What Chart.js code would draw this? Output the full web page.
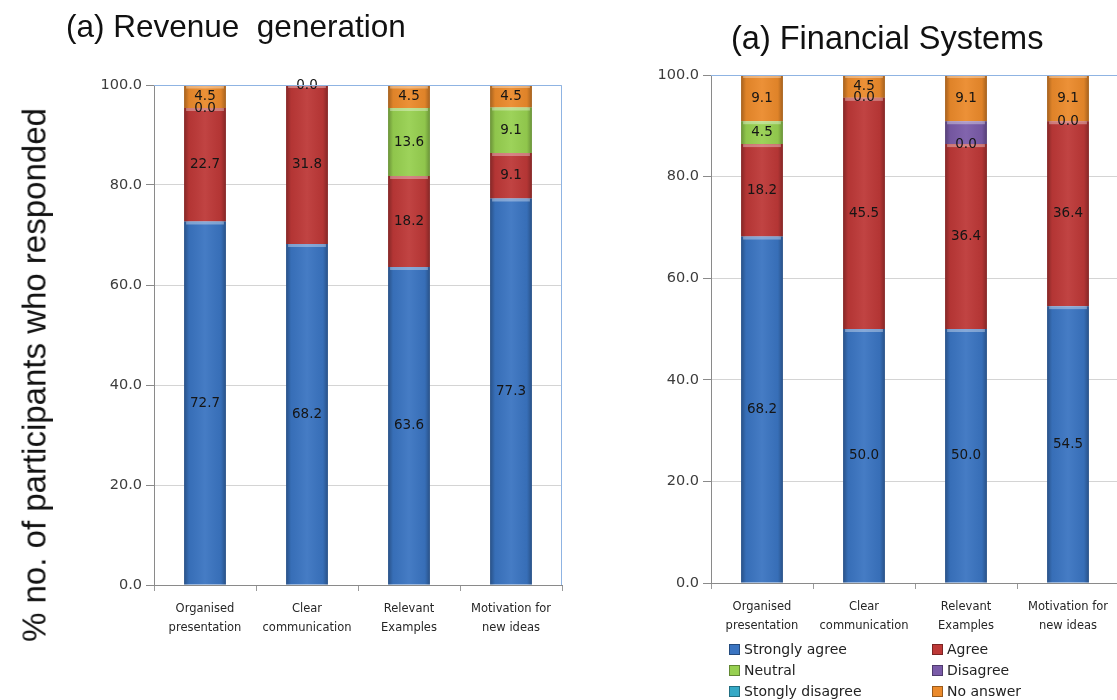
<!DOCTYPE html>
<html>
<head>
<meta charset="utf-8">
<script src="https://cdn.jsdelivr.net/npm/chart.js@4.4.1/dist/chart.umd.min.js"></script>
<style>
  html, body { margin: 0; padding: 0; background: #ffffff; overflow: hidden; }
  #wrap { position: relative; width: 1117px; height: 700px; overflow: hidden; background: #fff; }
  canvas { position: absolute; top: 0; }
  #revCanvas { left: 0; }
  #finCanvas { left: 590px; }
  .heading { position: absolute; font-family: "Liberation Sans", Arial, sans-serif; color: #111; white-space: pre; line-height: 1; }
  #revTitle { left: 66px; top: 11px; font-size: 31.5px; }
  #finTitle { left: 731px; top: 22px; font-size: 32.5px; }
  #yTitle { position: absolute; left: 34px; top: 375px; font-family: "Liberation Sans", Arial, sans-serif;
            font-size: 33px; color: #111; white-space: nowrap; line-height: 1;
            transform: translate(-50%, -50%) rotate(-90deg); }
  #legend { position: absolute; left: 729px; top: 640px; display: grid; grid-template-columns: 203px 180px;
            row-gap: 3px; font-family: "DejaVu Sans", Verdana, sans-serif; font-size: 14px; color: #222; }
  #legend .item { display: flex; align-items: center; height: 18px; }
  #legend .swatch { width: 9px; height: 9px; margin-right: 4px; border: 1px solid rgba(0,0,0,0.35); }
</style>
</head>
<body>
<div id="wrap">
  <canvas id="revCanvas" width="580" height="700"></canvas>
  <canvas id="finCanvas" width="540" height="700"></canvas>
  <div id="revTitle" class="heading">(a) Revenue  generation</div>
  <div id="finTitle" class="heading">(a) Financial Systems</div>
  <div id="yTitle">% no. of participants who responded</div>
  <div id="legend"></div>
</div>
<script>
// Survey categories (two-line labels) and response levels
const categories = [
  ['Organised', 'presentation'],
  ['Clear', 'communication'],
  ['Relevant', 'Examples'],
  ['Motivation for', 'new ideas']
];
const responseLevels = ['Strongly agree', 'Agree', 'Neutral', 'Disagree', 'Stongly disagree', 'No answer'];
const levelColors = ['#3a74c1', '#bd3837', '#97d050', '#7a5ba8', '#35a9c6', '#eb8a2b'];
const yTicks = [0, 20, 40, 60, 80, 100];

// (a) Revenue generation, % of participants
const revStronglyAgree    = [72.7, 68.2, 63.6, 77.3];
const revAgree            = [22.7, 31.8, 18.2, 9.1];
const revNeutral          = [0.0, null, 13.6, 9.1];
const revDisagree         = [null, null, null, null];
const revStronglyDisagree = [null, null, null, null];
const revNoAnswer         = [4.5, 0.0, 4.5, 4.5];

// (a) Financial Systems, % of participants
const finStronglyAgree    = [68.2, 50.0, 50.0, 54.5];
const finAgree            = [18.2, 45.5, 36.4, 36.4];
const finNeutral          = [4.5, 0.0, 0.0, 0.0];
const finDisagree         = [null, null, 4.5, null];
const finStronglyDisagree = [null, null, null, null];
const finNoAnswer         = [9.1, 4.5, 9.1, 9.1];

// Levels whose segments carry no printed value
const unlabelledLevels = ['Disagree'];

function buildDatasets(series) {
  return series.map((data, i) => ({
    label: responseLevels[i],
    data: data,
    backgroundColor: levelColors[i],
    borderWidth: 0,
    showValues: !unlabelledLevels.includes(responseLevels[i])
  }));
}

// Horizontal shading on each bar segment for a rounded, bevelled look
const bevel = {
  id: 'bevel',
  afterDatasetsDraw(chart) {
    const ctx = chart.ctx;
    ctx.save();
    chart.data.datasets.forEach((ds, di) => {
      const meta = chart.getDatasetMeta(di);
      meta.data.forEach((bar, i) => {
        if (ds.data[i] === null || ds.data[i] === undefined) return;
        const p = bar.getProps(['x', 'y', 'base', 'width'], true);
        const top = Math.min(p.y, p.base), h = Math.abs(p.base - p.y);
        if (h < 0.5) return;
        const left = p.x - p.width / 2;
        const g = ctx.createLinearGradient(left, 0, left + p.width, 0);
        g.addColorStop(0, 'rgba(0,0,0,0.30)');
        g.addColorStop(0.12, 'rgba(0,0,0,0.05)');
        g.addColorStop(0.5, 'rgba(255,255,255,0.06)');
        g.addColorStop(0.88, 'rgba(0,0,0,0.05)');
        g.addColorStop(1, 'rgba(0,0,0,0.30)');
        ctx.fillStyle = g;
        ctx.fillRect(left, top, p.width, h);
        ctx.fillStyle = 'rgba(255,255,255,0.35)';
        ctx.fillRect(left + 2, top, p.width - 4, Math.min(3, h));
      });
    });
    ctx.restore();
  }
};

// Value printed at the middle of each segment
const valueLabels = {
  id: 'valueLabels',
  afterDatasetsDraw(chart) {
    const ctx = chart.ctx;
    ctx.save();
    ctx.font = '13.5px "DejaVu Sans", Verdana, sans-serif';
    ctx.fillStyle = '#151515';
    ctx.textAlign = 'center';
    ctx.textBaseline = 'middle';
    chart.data.datasets.forEach((ds, di) => {
      if (ds.showValues === false) return;
      const meta = chart.getDatasetMeta(di);
      meta.data.forEach((bar, i) => {
        const v = ds.data[i];
        if (v === null || v === undefined) return;
        const p = bar.getProps(['x', 'y', 'base'], true);
        ctx.fillText(v.toFixed(1), p.x, (p.y + p.base) / 2);
      });
    });
    ctx.restore();
  }
};

// Light blue top and right edges of the plot area
const plotFrame = {
  id: 'plotFrame',
  afterDraw(chart) {
    const a = chart.chartArea, ctx = chart.ctx;
    ctx.save();
    ctx.strokeStyle = '#8fb4e3';
    ctx.lineWidth = 1;
    ctx.beginPath();
    ctx.moveTo(a.left, a.top + 0.5);
    ctx.lineTo(a.right - 0.5, a.top + 0.5);
    ctx.lineTo(a.right - 0.5, a.bottom);
    ctx.stroke();
    ctx.restore();
  }
};

function makeOptions(axisWidth, padding) {
  return {
    responsive: false,
    animation: false,
    devicePixelRatio: 1,
    layout: { padding: padding },
    datasets: { bar: { categoryPercentage: 1.0, barPercentage: 0.41 } },
    plugins: { legend: { display: false }, title: { display: false }, tooltip: { enabled: false } },
    scales: {
      x: {
        stacked: true,
        grid: { display: true, drawOnChartArea: false, offset: true, tickLength: 6, color: '#9a9a9a' },
        border: { color: '#8a8a8a' },
        ticks: {
          autoSkip: false, maxRotation: 0, padding: 9, color: '#262626',
          font: { family: '"DejaVu Sans", Verdana, sans-serif', size: 11.5, lineHeight: 1.6 }
        },
        afterFit(scale) { scale.height = 50; }
      },
      y: {
        stacked: true,
        min: yTicks[0],
        max: yTicks[yTicks.length - 1],
        afterBuildTicks(scale) { scale.ticks = yTicks.map(v => ({ value: v })); },
        grid: { color: '#d4d4d4', tickLength: 8, tickColor: '#8a8a8a' },
        border: { color: '#8a8a8a' },
        ticks: {
          padding: 4, color: '#3c3c3c',
          font: { family: '"DejaVu Sans", Verdana, sans-serif', size: 14.5 },
          callback: v => Number(v).toFixed(1)
        },
        afterFit(scale) { scale.width = axisWidth; }
      }
    }
  };
}

const revChart = new Chart(document.getElementById('revCanvas'), {
  type: 'bar',
  data: {
    labels: categories,
    datasets: buildDatasets([revStronglyAgree, revAgree, revNeutral, revDisagree, revStronglyDisagree, revNoAnswer])
  },
  options: makeOptions(154, { top: 85, right: 18, bottom: 65, left: 0 }),
  plugins: [bevel, valueLabels, plotFrame]
});

const finChart = new Chart(document.getElementById('finCanvas'), {
  type: 'bar',
  data: {
    labels: categories,
    datasets: buildDatasets([finStronglyAgree, finAgree, finNeutral, finDisagree, finStronglyDisagree, finNoAnswer])
  },
  options: makeOptions(121, { top: 75, right: 11, bottom: 67, left: 0 }),
  plugins: [bevel, valueLabels, plotFrame]
});

// Legend for the response levels, two columns
const legendBox = document.getElementById('legend');
finChart.data.datasets.forEach(ds => {
  const item = document.createElement('div');
  item.className = 'item';
  const sw = document.createElement('span');
  sw.className = 'swatch';
  sw.style.background = ds.backgroundColor;
  const tx = document.createElement('span');
  tx.textContent = ds.label;
  item.appendChild(sw);
  item.appendChild(tx);
  legendBox.appendChild(item);
});
</script>
</body>
</html>
